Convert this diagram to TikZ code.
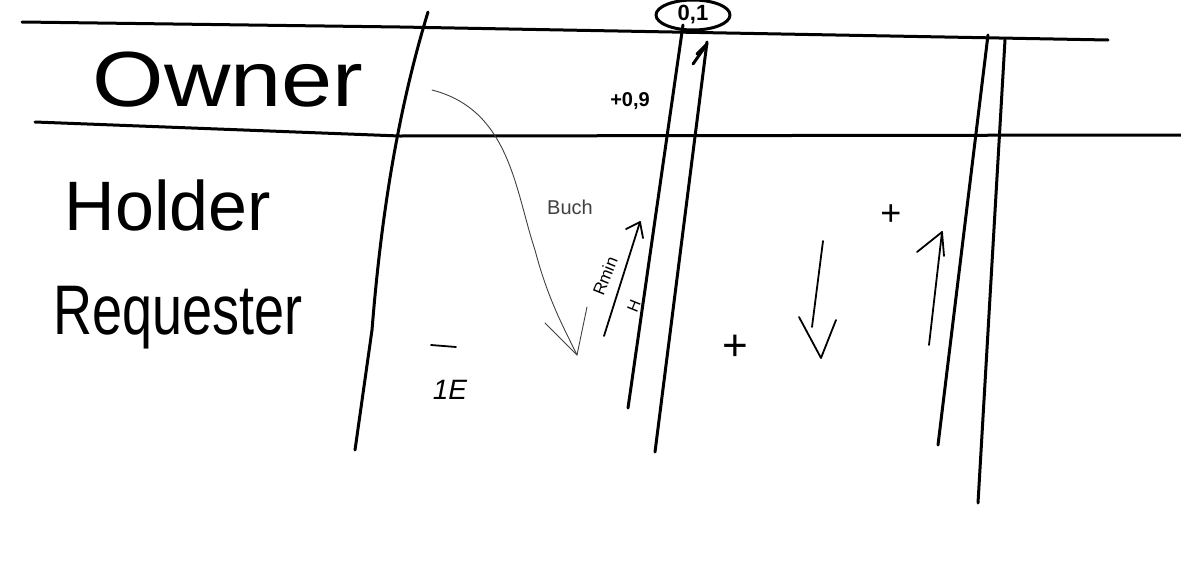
\documentclass[tikz,border=0pt]{standalone}
\usepackage{fontspec}
\setmainfont{Liberation Sans}
\usetikzlibrary{arrows.meta}
\tikzset{
  pen/.style={line width=3pt, line cap=round, line join=round, black},
  thinpen/.style={line width=1.8pt, line cap=round, line join=round, black},
  greypen/.style={line width=0.9pt, line cap=round, line join=round, black!75},
  lbl/.style={inner sep=0pt, black},
}
\begin{document}
\begin{tikzpicture}[x=1pt,y=-1pt]
\useasboundingbox[fill=white] (0,0) rectangle (1181,565);
% horizontal lines
\draw[pen] (22,22) -- (400,27) -- (1108,40);
\draw[pen] (35,122) -- (400,136) -- (1181,135);
% vertical line 1
\draw[pen] (428,12) .. controls (395,120) and (380,230) .. (372,330) -- (355,450);
% pair 1
\draw[pen] (683,25) -- (628,408);
\draw[pen] (707,42) -- (655,452);
\draw[pen] (693,64) -- (707,44);
\draw[pen] (697,54) -- (707,44);
% ellipse 0,1
\draw[pen] (693,15) ellipse [x radius=37, y radius=15];
\node[lbl, font=\fontsize{22}{22}\selectfont\bfseries] (v01) at (693,15) {0,1};
% pair 2
\draw[pen] (988,35) -- (938,445);
\draw[pen] (1005,40) -- (978,503);
% labels
\node[lbl, font=\fontsize{92}{92}\selectfont] (owner) at (228,80) {\scalebox{1}[0.85]{Owner}};
\node[lbl, font=\fontsize{70}{70}\selectfont] (holder) at (168,205) {Holder};
\node[lbl, font=\fontsize{54}{54}\selectfont] (req) at (178,318) {\scalebox{1}[1.3]{Requester}};
\node[lbl, font=\fontsize{20}{20}\selectfont\bfseries] (p09) at (630,101) {+0,9};
% Buch arrow
\coordinate (bstart) at (432,90);
\coordinate (bend) at (577,355);
\draw[greypen] (bstart) .. controls (510,110) and (515,190) .. (535,250) .. controls (548,300) and (565,330) .. (bend);
\draw[greypen] (545,323) -- (bend) -- (587,307);
\node[lbl, text=black!75, font=\fontsize{20}{20}\selectfont] (buch) at (570,207) {Buch};
% Rmin arrow
\coordinate (rs) at (604,336);
\coordinate (re) at (640,222);
\draw[thinpen] (rs) -- (re);
\draw[thinpen] (626,229) -- (re) -- (643,238);
\node[lbl, rotate=68, font=\fontsize{17}{17}\selectfont] (rmin) at (605,276) {Rmin};
\node[lbl, rotate=68, font=\fontsize{16}{16}\selectfont] (hh) at (634,306) {H};
% minus, 1E
\coordinate (m1) at (431,345);
\coordinate (m2) at (456,347);
\draw[thinpen] (m1) -- (m2);
\node[lbl, font=\fontsize{28}{28}\selectfont\itshape] (e1) at (450,390) {1E};
% pluses
\node[lbl, font=\fontsize{44}{44}\selectfont] (plus1) at (735,348) {+};
\node[lbl, font=\fontsize{36}{36}\selectfont] (plus2) at (891,215) {+};
% down arrow
\coordinate (ds) at (823,241);
\coordinate (de) at (821,358);
\draw[thinpen] (ds) -- (812,327);
\draw[thinpen] (799,317) -- (de) -- (836,320);
% up arrow
\coordinate (us) at (929,345);
\coordinate (ue) at (942,232);
\draw[thinpen] (us) -- (ue);
\draw[thinpen] (917,252) -- (ue) -- (944,256);
\end{tikzpicture}
\end{document}
